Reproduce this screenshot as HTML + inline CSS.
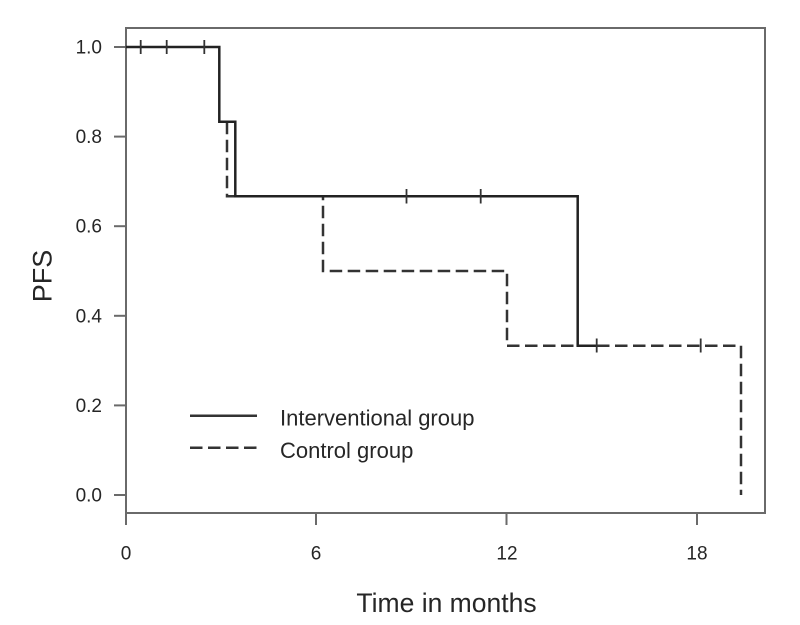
<!DOCTYPE html>
<html>
<head>
<meta charset="utf-8">
<style>
html,body{margin:0;padding:0;background:#fff;}
svg{display:block;}
text{font-family:"Liberation Sans",Arial,sans-serif;fill:#262626;}
</style>
</head>
<body>
<svg width="800" height="625" viewBox="0 0 800 625" xmlns="http://www.w3.org/2000/svg">
  <rect x="0" y="0" width="800" height="625" fill="#fff"/>
  <!-- plot box -->
  <rect x="126" y="28" width="639" height="485" fill="none" stroke="#6a6a6a" stroke-width="2"/>
  <!-- y ticks -->
  <g stroke="#6a6a6a" stroke-width="2">
    <line x1="114" y1="47" x2="126" y2="47"/>
    <line x1="114" y1="136.6" x2="126" y2="136.6"/>
    <line x1="114" y1="226.2" x2="126" y2="226.2"/>
    <line x1="114" y1="315.8" x2="126" y2="315.8"/>
    <line x1="114" y1="405.4" x2="126" y2="405.4"/>
    <line x1="114" y1="495" x2="126" y2="495"/>
    <!-- x ticks -->
    <line x1="126" y1="513" x2="126" y2="525"/>
    <line x1="316" y1="513" x2="316" y2="525"/>
    <line x1="506.5" y1="513" x2="506.5" y2="525"/>
    <line x1="697" y1="513" x2="697" y2="525"/>
  </g>
  <!-- y tick labels -->
  <g font-size="19" text-anchor="end">
    <text x="102" y="53.5">1.0</text>
    <text x="102" y="143">0.8</text>
    <text x="102" y="232.7">0.6</text>
    <text x="102" y="322.3">0.4</text>
    <text x="102" y="412">0.2</text>
    <text x="102" y="501.5">0.0</text>
  </g>
  <!-- x tick labels -->
  <g font-size="19" text-anchor="middle">
    <text x="126" y="559.5">0</text>
    <text x="316" y="559.5">6</text>
    <text x="507" y="559.5">12</text>
    <text x="697" y="559.5">18</text>
  </g>
  <!-- axis titles -->
  <text x="446.5" y="612" font-size="26.5" text-anchor="middle">Time in months</text>
  <text transform="translate(51.5,276) rotate(-90)" font-size="27" text-anchor="middle">PFS</text>

  <!-- control group (dashed) -->
  <polyline fill="none" stroke="#333" stroke-width="2.5" stroke-dasharray="12.5 5.5"
    points="227,121.7 227,196.3 323,196.3 323,271 507,271 507,345.7 741,345.7 741,495"/>
  <!-- interventional group (solid) -->
  <polyline fill="none" stroke="#222" stroke-width="2.5"
    points="125.7,47 219.3,47 219.3,121.7 235.3,121.7 235.3,196.3 577.7,196.3 577.7,345.7 597,345.7"/>
  <!-- censor marks -->
  <g stroke="#333" stroke-width="1.8">
    <line x1="140.7" y1="40" x2="140.7" y2="54"/>
    <line x1="166.7" y1="40" x2="166.7" y2="54"/>
    <line x1="204.3" y1="40" x2="204.3" y2="54"/>
    <line x1="406.5" y1="189" x2="406.5" y2="203.5"/>
    <line x1="480.7" y1="189" x2="480.7" y2="203.5"/>
    <line x1="596.7" y1="338.5" x2="596.7" y2="352.5"/>
    <line x1="700.7" y1="338.5" x2="700.7" y2="352.5"/>
  </g>

  <!-- legend -->
  <line x1="190" y1="415.7" x2="257" y2="415.7" stroke="#333" stroke-width="2.5"/>
  <line x1="190" y1="447.7" x2="257" y2="447.7" stroke="#333" stroke-width="2.5" stroke-dasharray="12.5 5.5"/>
  <text x="280" y="425.7" font-size="22">Interventional group</text>
  <text x="280" y="458" font-size="22">Control group</text>
</svg>
</body>
</html>
